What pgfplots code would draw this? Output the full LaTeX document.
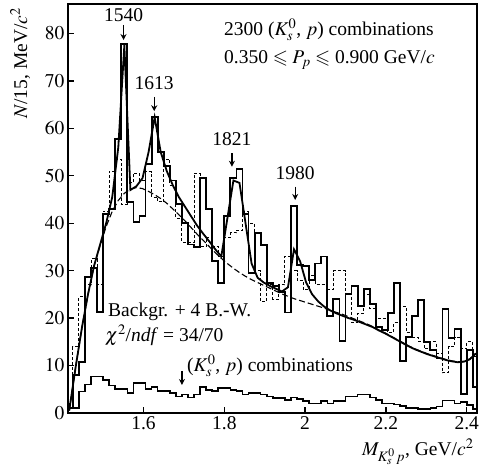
\documentclass[border=0pt]{standalone}
\usepackage{mathptmx}
\usepackage{amssymb}
\usepackage{fontspec}
\setmainfont{Liberation Serif}
\usepackage{pgfplots}
\pgfplotsset{compat=1.18}
\usepackage{pgfplotstable}
\usetikzlibrary{arrows.meta}

% bin left edge, main (solid), dashed, combinations background
\pgfplotstableread{
x m d b
1.410 1 2 1
1.425 8 14 1
1.440 10.8 24.5 4.5
1.455 28.7 27 6
1.470 30.5 32.5 7.7
1.485 21.3 27 7.7
1.500 42 42.5 7
1.515 43 51 5.8
1.530 57.7 53.5 5.1
1.545 77.7 44 5.1
1.560 44.5 48.5 4.2
1.575 40.3 50.5 6.3
1.590 41.5 49 6.3
1.605 52.5 50.8 5.1
1.620 62.4 45.5 5.5
1.635 55 44.5 4.6
1.650 52 53.5 4.6
1.665 49 48 4.2
1.680 44 41 3.5
1.695 40 36 3.9
1.710 35.5 36 3.3
1.725 35 50.5 3.9
1.740 49.5 35 5.5
1.755 43 37 4.8
1.770 32 35 4.6
1.785 27.4 33 5.3
1.800 41.5 37 5.3
1.815 49.5 38 4.8
1.830 51.4 38.5 4.6
1.845 42 42.5 3.9
1.860 29.5 40 4.2
1.875 38 30 4.2
1.890 35.4 23.5 3.9
1.905 27.4 27 3.5
1.920 26.7 24 3.2
1.935 25.5 27 3.2
1.950 21.2 33 2.7
1.965 43.6 30 3.3
1.980 31.2 28 2.9
1.995 31 26 2.5
2.010 28 29 2.0
2.025 31.5 27 2.0
2.040 33 27 2.5
2.055 20.5 26 2.0
2.070 24 30 2.5
2.085 15.2 30 2.5
2.100 25 25 3.5
2.115 26.7 19 3.5
2.130 22.5 21 3.9
2.145 26.1 25 3.9
2.160 23 22 3.3
2.175 18.2 20 2.7
2.190 17.5 20 2.0
2.205 21 17 2.0
2.220 27.4 19 1.8
2.235 11 22.5 1.5
2.250 16 17 1.1
2.265 20.5 16 1.1
2.280 23.8 15 0.8
2.295 15 13.5 0.8
2.310 13.3 15 1.1
2.325 11.5 12.5 1.4
2.340 21.9 8.5 2.6
2.355 15.8 14 2.6
2.370 17.7 16 2.0
2.385 4 13.5 2.3
2.400 13.3 15 1.7
2.415 5.5 12 0.8
2.430 5.5 12 0.8
}\hist

\pgfplotstableread{
x y
1.4160 0.5
1.4325 10
1.4475 18
1.4625 25
1.4775 31
1.4925 35.5
1.5075 40
1.5225 45.5
1.5375 56
1.5525 77.5
1.5675 47
1.5825 47.8
1.5975 49.5
1.6125 55
1.6275 62.3
1.6425 55
1.6575 51
1.6725 48
1.6875 45.5
1.7025 43.5
1.7175 41.5
1.7325 39.5
1.7475 37.8
1.7625 36.2
1.7775 34.5
1.7925 33
1.8075 41
1.8225 49
1.8375 48.5
1.8525 40
1.8675 31.5
1.8825 28.5
1.8975 27.5
1.9125 26.8
1.9275 26.2
1.9425 25.6
1.9575 26.5
1.9725 34.5
1.9875 32
2.0025 27.5
2.0175 25
2.0325 23.5
2.0475 22.4
2.0625 21.6
2.0775 21
2.0925 20.5
2.1075 20
2.1225 19.6
2.1375 19.1
2.1525 18.6
2.1675 18.1
2.1825 17.4
2.1975 16.8
2.2125 16.1
2.2275 15.4
2.2425 14.7
2.2575 14
2.2725 13.4
2.2875 12.9
2.3025 12.4
2.3175 12
2.3325 11.6
2.3475 11.2
2.3625 10.9
2.3775 10.7
2.3925 10.8
2.4075 11.3
2.4225 12.5
}\fit

\pgfplotstableread{
x y
1.4160 0.5
1.4325 10
1.4475 18
1.4625 25
1.4775 31
1.4925 35.3
1.5075 39.3
1.5225 42.5
1.5375 44.8
1.5525 46.3
1.5675 47.2
1.5825 47.5
1.5975 47.3
1.6125 46.7
1.6275 46
1.6425 45.2
1.6575 44.2
1.6725 43
1.6875 41.8
1.7025 40.5
1.7175 39.1
1.7325 37.7
1.7475 36.4
1.7625 35.1
1.7775 33.8
1.7925 32.6
1.8075 31.5
1.8225 30.5
1.8375 29.6
1.8525 28.8
1.8675 28.1
1.8825 27.5
1.8975 26.9
1.9125 26.3
1.9275 25.7
1.9425 25.1
1.9575 24.6
1.9725 24.1
1.9875 23.7
2.0025 23.3
2.0175 22.9
2.0325 22.5
2.0475 22.1
2.0625 21.6
2.0775 21.2
2.0925 20.8
2.1075 20.3
2.1225 19.8
2.1375 19.3
2.1525 18.8
2.1675 18.2
2.1825 17.5
2.1975 16.9
2.2125 16.2
2.2275 15.5
2.2425 14.8
2.2575 14.1
2.2725 13.5
2.2875 13.0
2.3025 12.5
2.3175 12.1
2.3325 11.7
2.3475 11.3
2.3625 11.0
2.3775 10.8
2.3925 10.9
2.4075 11.4
2.4225 12.6
}\bkg

\begin{document}
\begin{tikzpicture}[font=\fontsize{19.5}{23}\selectfont]
\begin{axis}[
  scale only axis, width=409pt, height=409pt,
  xmin=1.413, xmax=2.4255, ymin=0, ymax=86.2,
  axis line style={line width=1.8pt},
  tick style={line width=1.3pt, black},
  major tick length=6pt,
  tick align=inside,
  tick pos=left,
  xtick={1.6,1.8,2.0,2.2,2.4},
  xticklabels={1.6,1.8,2,2.2,2.4},
  ytick={0,10,...,80},
  clip mode=individual,
  ylabel={$N$/15, MeV/$c^2$},
  ylabel style={at={(rel axis cs:-0.117,0.855)}, anchor=center},
  xlabel={$M_{K_s^0\,p}$, GeV/$c^2$},
  xlabel style={at={(rel axis cs:1,-0.095)}, anchor=east},
]
\addplot[const plot, line width=1pt, dash pattern=on 3pt off 2pt] table[x=x,y=d] {\hist};
\addplot[const plot, line width=1.8pt] table[x=x,y=m] {\hist};
\addplot[const plot, line width=1.6pt] table[x=x,y=b] {\hist};
\addplot[line width=1.1pt, dash pattern=on 6pt off 3pt] table {\bkg};
\addplot[line width=1.8pt] table {\fit};

\draw[line width=1.3pt, -{Stealth[length=6pt,width=6pt]}] (axis cs:1.5505,81.8) -- (axis cs:1.5505,78.6);
\node[anchor=south, inner sep=0pt] at (axis cs:1.5505,82.4) {1540};
\draw[line width=1.3pt, -{Stealth[length=6pt,width=6pt]}] (axis cs:1.6265,66.6) -- (axis cs:1.6265,63.6);
\node[anchor=south, inner sep=0pt] at (axis cs:1.6265,68.0) {1613};
\draw[line width=1.3pt, -{Stealth[length=6pt,width=6pt]}] (axis cs:1.8188,54.7) -- (axis cs:1.8188,51.9);
\node[anchor=south, inner sep=0pt] at (axis cs:1.8188,56.4) {1821};
\draw[line width=1.3pt, -{Stealth[length=6pt,width=6pt]}] (axis cs:1.9755,47.7) -- (axis cs:1.9755,44.9);
\node[anchor=south, inner sep=0pt] at (axis cs:1.9755,49.1) {1980};
\draw[line width=1.3pt, -{Stealth[length=6pt,width=6pt]}] (axis cs:1.695,8.9) -- (axis cs:1.695,5.9);
\end{axis}
\node[anchor=west, inner sep=0pt] at (156pt,383pt) {2300 ($K_s^0$, $p$) combinations};
\node[anchor=west, inner sep=0pt] at (156pt,353pt) {0.350 $\leqslant P_p \leqslant$ 0.900 GeV/$c$};
\node[anchor=west, inner sep=0pt] at (40pt,101.6pt) {Backgr. + 4 B.-W.};
\node[anchor=west, inner sep=0pt] at (37pt,78pt) {$\chi^2$/\textit{ndf} = 34/70};
\node[anchor=west, inner sep=0pt] at (119pt,47pt) {($K_s^0$, $p$) combinations};
\pgfresetboundingbox
\path[use as bounding box] (-68pt,-57pt) rectangle (411pt,413pt);
\end{tikzpicture}
\end{document}
